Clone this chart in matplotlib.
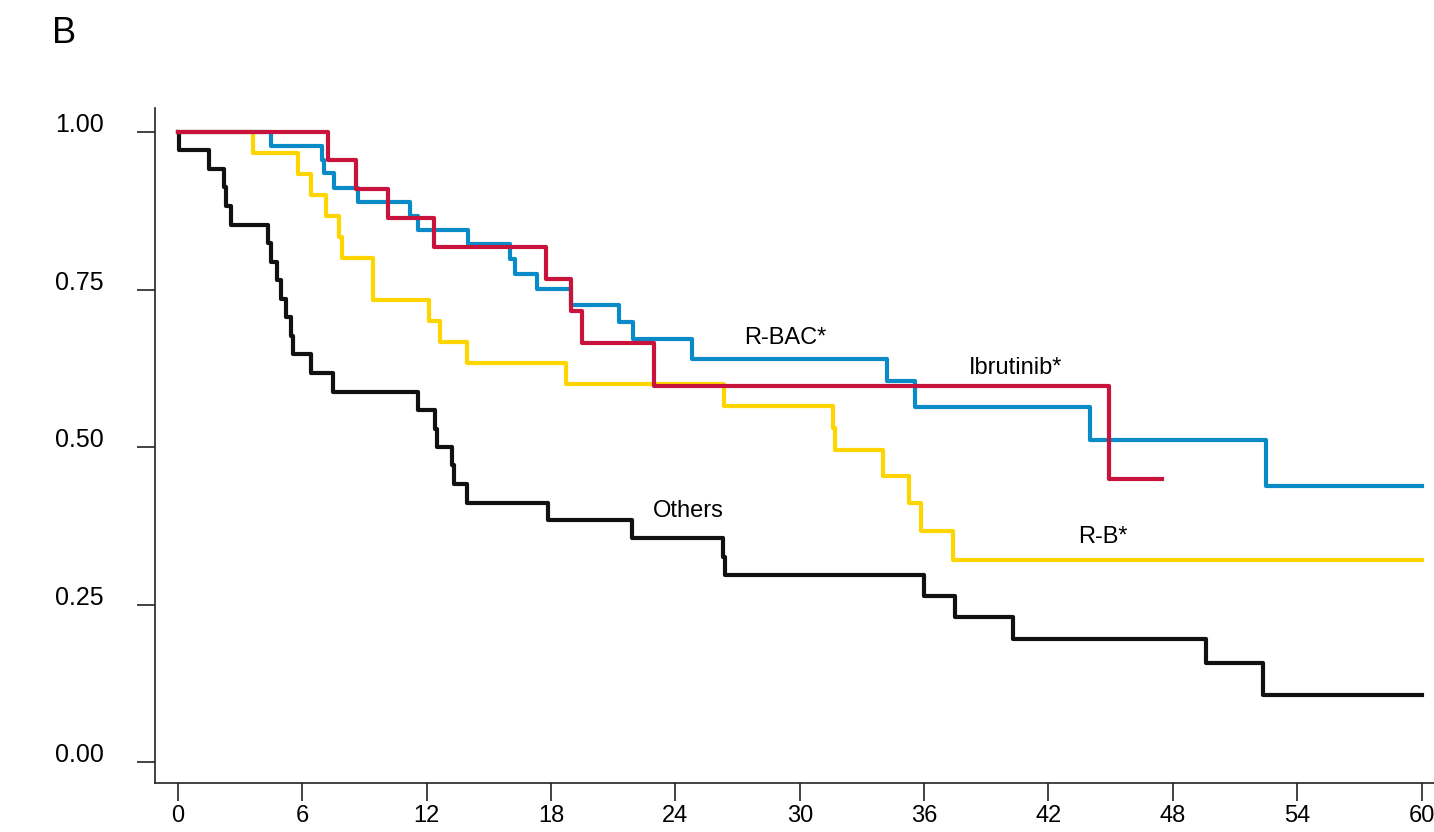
import numpy as np
import matplotlib.pyplot as plt

plt.rcParams['font.family'] = ['Liberation Sans', 'DejaVu Sans']

# Kaplan-Meier estimates, time in months
t_others = [0, 0.05, 1.5, 2.2, 2.3, 2.55, 4.35, 4.5, 4.8, 4.95, 5.2, 5.45, 5.55, 6.4, 7.5,
            11.6, 12.4, 12.5, 13.2, 13.3, 13.95, 17.85, 21.9, 26.3, 26.4, 36.0, 37.5,
            40.3, 49.6, 52.35, 60]
s_others = [1.0, 0.971, 0.941, 0.912, 0.882, 0.853, 0.824, 0.794, 0.765, 0.735, 0.706,
            0.676, 0.647, 0.618, 0.588, 0.559, 0.529, 0.500, 0.471, 0.441, 0.412, 0.384,
            0.355, 0.326, 0.297, 0.263, 0.231, 0.195, 0.157, 0.106, 0.106]

t_rb = [0, 3.6, 5.8, 6.4, 7.15, 7.75, 7.9, 9.4, 12.1, 12.65, 13.95, 18.7, 26.35, 31.6,
        31.7, 34.0, 35.25, 35.85, 37.4, 60]
s_rb = [1.0, 0.967, 0.933, 0.900, 0.867, 0.833, 0.800, 0.733, 0.700, 0.667, 0.633, 0.600,
        0.565, 0.530, 0.495, 0.454, 0.412, 0.367, 0.321, 0.321]

t_rbac = [0, 4.5, 6.95, 7.05, 7.55, 8.7, 11.2, 11.6, 14.0, 16.0, 16.25, 17.3, 18.95, 21.3,
          21.95, 24.8, 34.2, 35.55, 44.0, 52.5, 60]
s_rbac = [1.0, 0.978, 0.956, 0.935, 0.911, 0.889, 0.867, 0.845, 0.822, 0.798, 0.775, 0.751,
          0.725, 0.698, 0.671, 0.640, 0.605, 0.563, 0.512, 0.438, 0.438]

t_ibr = [0, 7.25, 8.6, 10.15, 12.35, 17.75, 18.95, 19.5, 22.95, 44.9, 47.5]
s_ibr = [1.0, 0.955, 0.909, 0.864, 0.818, 0.767, 0.716, 0.665, 0.597, 0.449, 0.449]

xticks = np.arange(0, 61, 6)
yticks = [0.0, 0.25, 0.5, 0.75, 1.0]

fig = plt.figure(figsize=(14.34, 8.32), dpi=100)
ax = fig.add_axes([155/1434, 49/832, 1279/1434, 675/832])

lw = 3.0
ax.step(t_others, s_others, where='post', color='#111111', lw=lw)
ax.step(t_rb, s_rb, where='post', color='#FFD500', lw=lw)
ax.step(t_rbac, s_rbac, where='post', color='#0A8BC7', lw=lw)
ax.step(t_ibr, s_ibr, where='post', color='#C8133C', lw=lw)

fs_lab = 17
ax.text(29.3, 0.673, 'R-BAC*', ha='center', va='center', fontsize=fs_lab)
ax.text(40.4, 0.625, 'Ibrutinib*', ha='center', va='center', fontsize=fs_lab)
ax.text(24.6, 0.398, 'Others', ha='center', va='center', fontsize=fs_lab)
ax.text(44.6, 0.357, 'R-B*', ha='center', va='center', fontsize=fs_lab)

ax.set_xlim(-1.11, 60.6)
ax.set_ylim(-0.033, 1.038)
ax.set_xticks(xticks)
ax.set_yticks(yticks)
ax.set_yticklabels(['%.2f' % v for v in yticks])
ax.spines['top'].set_visible(False)
ax.spines['right'].set_visible(False)
for sp in ['left', 'bottom']:
    ax.spines[sp].set_linewidth(1.2)
    ax.spines[sp].set_color('#222222')
ax.tick_params(axis='both', direction='out', length=13, width=1.2, color='#222222')
ax.tick_params(axis='y', pad=24, labelsize=18)
ax.tick_params(axis='x', pad=3, labelsize=17)
for lbl in ax.get_yticklabels():
    lbl.set_va('baseline')

fig.text(52/1434, 1 - 43/832, 'B', fontsize=26, va='baseline')

plt.savefig('out.png', dpi=100)
